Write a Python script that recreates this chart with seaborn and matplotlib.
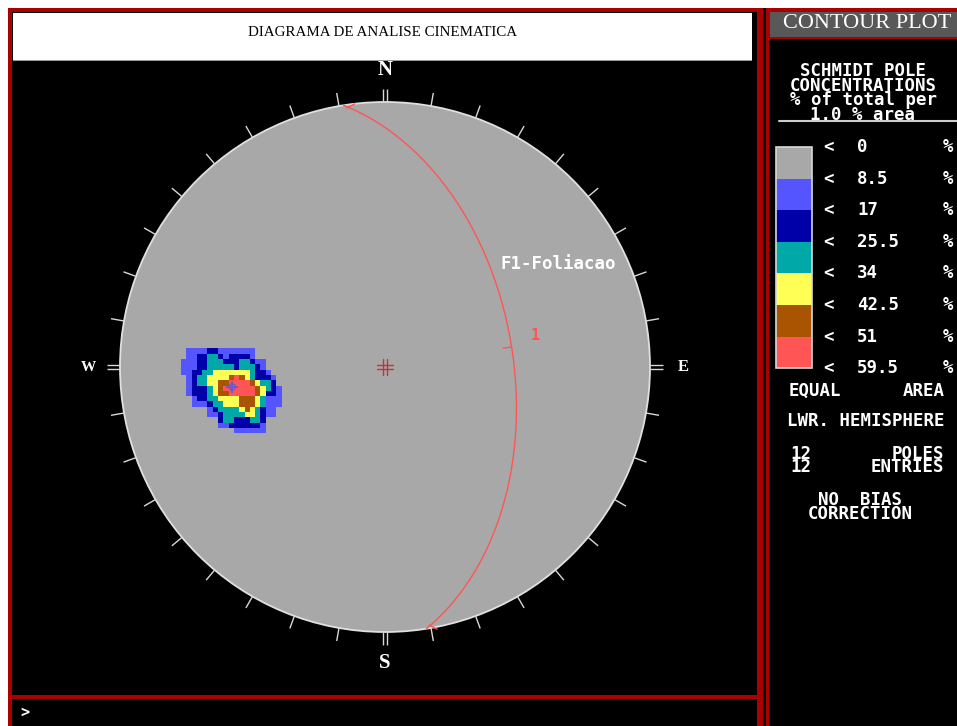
import numpy as np
import pandas as pd
import matplotlib
matplotlib.use("Agg")
import matplotlib.pyplot as plt
from matplotlib.patches import Rectangle, Circle
from matplotlib.colors import ListedColormap, BoundaryNorm
import seaborn as sns

# ---- data -------------------------------------------------------------
# Pole orientations (trend / plunge, degrees, lower hemisphere)
pole_trend = [260, 265, 264, 255, 258, 269, 259, 267, 254, 252, 275, 269]
pole_plunge = [40, 36, 46, 43, 34, 42, 49, 32, 43, 50, 31, 49]

# Contour intervals (% of total per 1 % area)
levels = [0, 8.5, 17, 25.5, 34, 42.5, 51, 59.5]
level_labels = ["0", "8.5", "17", "25.5", "34", "42.5", "51", "59.5"]
level_colors = ["#a8a8a8", "#5555ff", "#0000a8", "#00a8a8",
                "#ffff55", "#a85400", "#ff5555"]

# Plane (dip direction / dip)
plane_name = "F1-Foliacao"
plane_id = "1"
plane_dipdir = 81
plane_dip = 50

title = "DIAGRAMA DE ANALISE CINEMATICA"
cardinals = ["N", "E", "S", "W"]

# ---- style ------------------------------------------------------------
sns.set_theme(style="white")
plt.rcParams["font.family"] = ["DejaVu Sans"]

W, H = 957, 726
RED = "#aa0000"
MONO = "DejaVu Sans Mono"
FS = 12.5


def to_vec(trend, plunge):
    t = np.radians(np.asarray(trend, float))
    p = np.radians(np.asarray(plunge, float))
    return np.stack([np.cos(p) * np.cos(t), np.cos(p) * np.sin(t), np.sin(p)], axis=-1)


def vec_to_tp(v):
    v = np.atleast_2d(v)
    v = np.where(v[:, 2:3] < 0, -v, v)
    tr = np.degrees(np.arctan2(v[:, 1], v[:, 0])) % 360
    pl = np.degrees(np.arcsin(np.clip(v[:, 2], -1, 1)))
    return tr, pl


def project(trend, plunge):
    """Equal-area (Schmidt) lower-hemisphere projection, unit primitive."""
    r = np.sqrt(2) * np.sin(np.radians(90 - np.asarray(plunge, float)) / 2)
    t = np.radians(np.asarray(trend, float))
    return r * np.sin(t), r * np.cos(t)


def inverse(x, y):
    r = np.hypot(x, y)
    pl = 90 - 2 * np.degrees(np.arcsin(np.clip(r / np.sqrt(2), 0, 1)))
    tr = np.degrees(np.arctan2(x, y))
    return tr, pl


fig = plt.figure(figsize=(W / 100, H / 100), dpi=100, facecolor="white")

# ---- screen frame -----------------------------------------------------
bg = fig.add_axes([0, 0, 1, 1], zorder=0)
bg.set_xlim(0, W)
bg.set_ylim(H, 0)
bg.axis("off")


def box(x0, y0, x1, y1, color, **kw):
    bg.add_patch(Rectangle((x0, y0), x1 - x0, y1 - y0, facecolor=color,
                           edgecolor="none", **kw))


box(8, 8, 763, H, RED)
box(12, 12, 757, 695, "black")
box(12, 699, 757, H, "black")
box(13, 13, 752, 61, "#999999")
box(13, 13, 752, 60, "white")
box(763, 8, 766, H, "black")
box(766, 8, W, H, RED)
box(769, 39, W, H, "black")
box(770, 12, W, 37, "#585858")

bg.text(383, 32, title, ha="center", va="center", color="black",
        fontsize=10.8, family="Liberation Serif")
bg.text(25, 712, ">", ha="center", va="center", color="white",
        fontsize=11, family=MONO, fontweight="bold")

# ---- side panel -------------------------------------------------------
bg.text(867, 24, "CONTOUR PLOT", ha="center", va="center", color="white",
        fontsize=16, family="Liberation Serif")
bg.text(863, 93, "SCHMIDT POLE\nCONCENTRATIONS\n% of total per\n1.0 % area",
        ha="center", va="center", color="white", fontsize=FS, family=MONO,
        fontweight="bold", linespacing=0.74)
bg.plot([779, W], [121, 121], color="#cccccc", lw=1.5)

sw_x0, sw_x1, sw_top, sw_h = 776, 812, 147, 31.6
for i, c in enumerate(level_colors):
    box(sw_x0, sw_top + i * sw_h, sw_x1, sw_top + (i + 1) * sw_h, c, zorder=2)
bg.add_patch(Rectangle((sw_x0, sw_top), sw_x1 - sw_x0, sw_h * len(level_colors),
                       facecolor="none", edgecolor="#d8d8d8", lw=1.2, zorder=3))
for i, lab in enumerate(level_labels):
    yy = sw_top + i * sw_h
    bg.text(828, yy, "<", ha="center", va="center", color="white",
            fontsize=FS, family=MONO, fontweight="bold")
    bg.text(857, yy, lab, ha="left", va="center", color="white",
            fontsize=FS, family=MONO, fontweight="bold")
    bg.text(948, yy, "%", ha="center", va="center", color="white",
            fontsize=FS, family=MONO, fontweight="bold")

bg.text(789, 391, "EQUAL", ha="left", va="center", color="white",
        fontsize=FS, family=MONO, fontweight="bold")
bg.text(945, 391, "AREA", ha="right", va="center", color="white",
        fontsize=FS, family=MONO, fontweight="bold")
bg.text(866, 421, "LWR. HEMISPHERE", ha="center", va="center", color="white",
        fontsize=FS, family=MONO, fontweight="bold")
n_poles = len(pole_trend)
bg.text(790, 460.5, f"{n_poles}\n{n_poles}", ha="left", va="center", color="white",
        fontsize=FS, family=MONO, fontweight="bold", linespacing=0.7)
bg.text(944, 460.5, "POLES\nENTRIES", ha="right", va="center", color="white",
        fontsize=FS, family=MONO, fontweight="bold", linespacing=0.7,
        multialignment="right")
bg.text(860, 507, "NO  BIAS\nCORRECTION", ha="center", va="center",
        color="white", fontsize=FS, family=MONO, fontweight="bold",
        linespacing=0.7)

# ---- stereonet --------------------------------------------------------
CX, CY, R = 385, 367, 265
half = 300
ax = fig.add_axes([(CX - half) / W, 1 - (CY + half) / H, 2 * half / W, 2 * half / H],
                  zorder=1)
lim = half / R
ax.set_xlim(-lim, lim)
ax.set_ylim(-lim, lim)
ax.axis("off")
ax.patch.set_alpha(0)

ax.add_patch(Circle((0, 0), 1, facecolor=level_colors[0], edgecolor="#e0e0e0",
                    lw=1.3, zorder=1))

# Schmidt counting on a coarse grid: cone covering 1 % of the hemisphere
cone = np.arccos(0.99)
pv = to_vec(pole_trend, pole_plunge)
cstep = 0.04
cc = np.arange(-1.04, 1.04 + cstep / 2, cstep)
CXg, CYg = np.meshgrid(cc, cc)
c_tr, c_pl = inverse(CXg.ravel(), CYg.ravel())
gv = to_vec(c_tr, c_pl)
counts = (np.abs(gv @ pv.T) >= np.cos(cone)).sum(axis=1).reshape(CXg.shape)
coarse = counts / n_poles * 100

# bilinear refinement of the counted grid
fstep = 0.02
fc = np.arange(-1, 1 + fstep / 2, fstep)
rows = np.array([np.interp(fc, cc, row) for row in coarse])
dens = np.array([np.interp(fc, cc, col) for col in rows.T]).T
FX, FY = np.meshgrid(fc, fc)
dens = np.ma.masked_where((np.hypot(FX, FY) > 0.995) | (dens < levels[1]), dens)

cmap = ListedColormap(level_colors[1:])
norm = BoundaryNorm(levels[1:-1] + [1000], cmap.N)
ax.pcolormesh(FX, FY, dens, cmap=cmap, norm=norm, shading="nearest", zorder=2)

# mean pole
mv = pv.sum(axis=0)
mv /= np.linalg.norm(mv)
m_tr, m_pl = vec_to_tp(mv)
mx, my = project(m_tr, m_pl)
sns.scatterplot(x=mx, y=my, marker="+", s=70, color="#6a5acd", linewidth=1.4,
                ax=ax, zorder=4, legend=False)
ax.add_patch(Circle((mx[0], my[0]), 0.012, facecolor="none", edgecolor="#6a5acd",
                    lw=1, zorder=4))

# great circle of the plane
a = np.radians(np.linspace(0, 180, 361))
sv = to_vec(plane_dipdir - 90, 0)
dv = to_vec(plane_dipdir, plane_dip)
gcv = np.outer(np.cos(a), sv) + np.outer(np.sin(a), dv)
gtr = np.degrees(np.arctan2(gcv[:, 1], gcv[:, 0]))
gpl = np.degrees(np.arcsin(np.clip(gcv[:, 2], -1, 1)))
gx, gy = project(gtr, gpl)
gc = pd.DataFrame({"x": gx, "y": gy, "order": np.arange(len(gx))})
sns.lineplot(data=gc, x="x", y="y", sort=False, estimator=None, color="#ff5555",
             lw=1, ax=ax, zorder=5)
dx, dy = project(plane_dipdir, plane_dip)
dr = np.hypot(dx, dy)
ax.plot([dx, dx * (1 - 0.032 / dr)], [dy, dy * (1 - 0.032 / dr)],
        color="#ff5555", lw=1, zorder=5)
# small end marks of the trace
for k, sgn in ((2, 1), (-3, -1)):
    ex, ey = gx[k], gy[k]
    ax.plot([ex, ex + 0.03], [ey - 0.005 * sgn, ey + 0.01 * sgn],
            color="#ff5555", lw=1, zorder=5)
ax.text(dx + 0.09, dy + 0.045, plane_id, color="#ff5555", fontsize=11,
        family=MONO, fontweight="bold", ha="center", va="center", zorder=6)
ax.text(0.435, 0.39, plane_name, color="white", fontsize=FS, family=MONO,
        fontweight="bold", ha="left", va="center", zorder=6)

# azimuth ticks around the primitive
for az in range(0, 360, 10):
    s, c = np.sin(np.radians(az)), np.cos(np.radians(az))
    r0, r1 = 1.0, 1.05
    if az % 90 == 0:
        off = 0.0065
        for o in (-off, off):
            ax.plot([r0 * s + o * c, r1 * s + o * c], [r0 * c - o * s, r1 * c - o * s],
                    color="#d8d8d8", lw=1, zorder=3, solid_capstyle="butt")
    else:
        ax.plot([r0 * s, r1 * s], [r0 * c, r1 * c], color="#d8d8d8", lw=1,
                zorder=3, solid_capstyle="butt")

# centre mark
d, o = 0.032, 0.0065
for sgn in (-1, 1):
    ax.plot([-d, d], [sgn * o, sgn * o], color="#c83232", lw=1, zorder=3)
    ax.plot([sgn * o, sgn * o], [-d, d], color="#c83232", lw=1, zorder=3)

card_pos = {"N": (0, 1.121, 15), "S": (0, -1.117, 15),
            "E": (1.125, 0, 12), "W": (-1.12, 0, 11)}
for lab in cardinals:
    x, y, fs = card_pos[lab]
    ax.text(x, y, lab, color="white", fontsize=fs, family="Liberation Serif",
            fontweight="bold", ha="center", va="center")

fig.savefig("out.png", dpi=100)
